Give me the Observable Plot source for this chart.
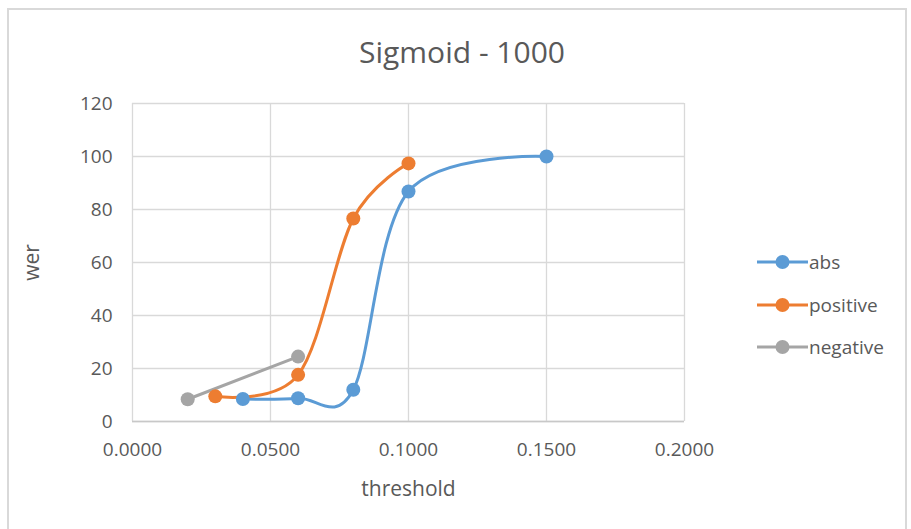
<!DOCTYPE html>
<html>
<head>
<meta charset="utf-8">
<script src="https://cdn.jsdelivr.net/npm/d3@7"></script>
<script src="https://cdn.jsdelivr.net/npm/@observablehq/plot@0.6"></script>
<style>
  body { margin: 0; background: #fff; font-family: "Open Sans", sans-serif; }
  #wrap { position: relative; width: 911px; height: 529px; overflow: hidden; background: #fff; }
  #frame { position: absolute; left: 7px; top: 8px; width: 900px; height: 600px; border: 2px solid #d9d9d9; box-sizing: border-box; }
  #chart { position: absolute; left: 0; top: 0; }
  #title { position: absolute; left: 0; width: 924px; top: 30px; text-align: center; font-size: 30px; color: #595959; line-height: 44px; }
  #legend { position: absolute; left: 757px; top: 248px; color: #595959; font-size: 19px; }
  .item { display: flex; align-items: center; height: 28px; margin-bottom: 14.5px; }
  .item svg { margin-right: 1px; }
</style>
</head>
<body>
<div id="wrap">
  <div id="frame"></div>
  <div id="chart"></div>
  <div id="title">Sigmoid - 1000</div>
  <div id="legend"></div>
</div>
<script>
const seriesNames = ["abs", "positive", "negative"];
const seriesColors = ["#5B9BD5", "#ED7D31", "#A5A5A5"];

const absX = [0.04, 0.06, 0.08, 0.10, 0.15];
const absY = [8.5, 8.8, 12, 86.8, 100];

const positiveX = [0.03, 0.06, 0.08, 0.10];
const positiveY = [9.5, 17.6, 76.6, 97.4];

const negativeX = [0.02, 0.06];
const negativeY = [8.4, 24.5];

const xTicks = [0, 0.05, 0.10, 0.15, 0.20];
const yTicks = [0, 20, 40, 60, 80, 100, 120];

const rows = [];
[[absX, absY], [positiveX, positiveY], [negativeX, negativeY]].forEach(([xs, ys], i) => {
  xs.forEach((x, j) => rows.push({series: seriesNames[i], threshold: x, wer: ys[j]}));
});

const color = {domain: seriesNames, range: seriesColors};

const chart = Plot.plot({
  width: 911,
  height: 529,
  marginLeft: 132,
  marginRight: 227,
  marginTop: 103,
  marginBottom: 108,
  style: {background: "transparent", color: "#595959", fontFamily: "Open Sans, sans-serif", fontSize: "19px"},
  x: {domain: [0, 0.2]},
  y: {domain: [0, 120]},
  color,
  marks: [
    Plot.gridX(xTicks, {stroke: "#d9d9d9", strokeOpacity: 1, strokeWidth: 1.3}),
    Plot.gridY(yTicks, {stroke: "#d9d9d9", strokeOpacity: 1, strokeWidth: 1.3}),
    Plot.ruleY([0], {stroke: "#c8c8c8", strokeWidth: 1.6}),
    Plot.axisX(xTicks, {tickSize: 0, tickPadding: 21, fontSize: 19, tickFormat: d => d.toFixed(4), label: "threshold", labelAnchor: "center", labelArrow: "none", labelOffset: 74}),
    Plot.axisY(yTicks, {tickSize: 0, tickPadding: 20, fontSize: 19, label: "wer", labelAnchor: "center", labelArrow: "none", labelOffset: 108}),
    Plot.line(rows, {x: "threshold", y: "wer", z: "series", stroke: "series", strokeWidth: 3, curve: "cardinal"}),
    Plot.dot(rows, {x: "threshold", y: "wer", fill: "series", r: 7})
  ]
});
chart.querySelectorAll('[aria-label="x-axis label"] text, [aria-label="y-axis label"] text').forEach(t => t.setAttribute("font-size", "21"));
document.getElementById("chart").appendChild(chart);

const legend = document.getElementById("legend");
seriesNames.forEach((name, i) => {
  const item = document.createElement("div");
  item.className = "item";
  item.innerHTML = `<svg width="51" height="16"><line x1="0" y1="8" x2="51" y2="8" stroke="${seriesColors[i]}" stroke-width="3"/><circle cx="25.5" cy="8" r="7" fill="${seriesColors[i]}"/></svg><span>${name}</span>`;
  legend.appendChild(item);
});
</script>
</body>
</html>
